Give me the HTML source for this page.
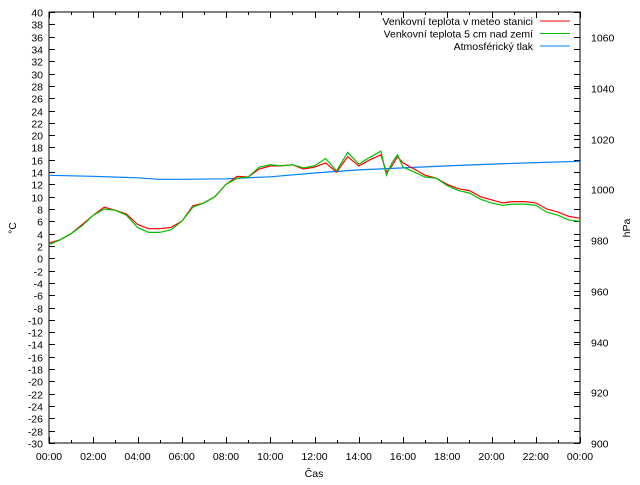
<!DOCTYPE html>
<html><head><meta charset="utf-8"><style>
html,body{margin:0;padding:0;background:#fff;}
svg text{font-family:"Liberation Sans","DejaVu Sans",sans-serif;font-size:10.5px;fill:#000;}
</style></head><body>
<svg id="chart" width="640" height="480" xmlns="http://www.w3.org/2000/svg">
<rect width="640" height="480" fill="#fff"/>
<g id="axes"></g>
<g id="series"></g>
<g id="legend"></g>
</svg>
<script>
const hours = [0,0.5,1,1.5,2,2.5,3,3.5,4,4.5,5,5.5,6,6.5,7,7.5,8,8.5,9,9.5,10,10.5,11,11.5,12,12.5,13,13.5,14,14.5,15,15.25,15.5,15.75,16,16.5,17,17.5,18,18.5,19,19.5,20,20.5,21,21.5,22,22.5,23,23.5,24];
const tempStation = [2.5,3,4,5.5,7,8.3,7.8,7.2,5.5,4.8,4.8,5,6,8.5,9,10,12,13.3,13.2,14.5,15,15,15.2,14.5,14.8,15.5,14,16.5,15,16,16.8,14,15,16.5,15.5,14.5,13.5,13,12,11.3,11,10,9.5,9,9.2,9.2,9,8,7.5,6.8,6.5];
const tempGround = [2.2,3,4,5.3,7,8,7.8,7,5,4.2,4.2,4.6,6,8.3,9,10,12,13,13.2,14.8,15.2,15,15.2,14.7,15,16.2,14.2,17.2,15.3,16.4,17.4,13.5,15.5,16.8,14.8,14,13.2,13,11.8,11,10.6,9.6,9,8.6,8.8,8.8,8.6,7.5,7,6.2,6];
const pressHours = [0,2,4,5,6,8,10,12,14,16,18,20,22,24];
const pressure = [1005.6,1005.2,1004.6,1004.0,1004.0,1004.2,1005,1006.5,1007.7,1008.5,1009.3,1010,1010.6,1011.1];
const yTicks = [];for(let v=-30;v<=40;v+=2)yTicks.push(v);
const y2Ticks = [900,920,940,960,980,1000,1020,1040,1060];
const xTickLabels = ["00:00","02:00","04:00","06:00","08:00","10:00","12:00","14:00","16:00","18:00","20:00","22:00","00:00"];

const L=49,R=580,T=12,B=443,NS="http://www.w3.org/2000/svg";
const xs=h=>L+(R-L)*h/24;
const ys=v=>B-(B-T)*(v+30)/70;
const y2s=v=>B-(B-T)*(v-900)/170;
function mk(tag,attrs,parent,text){const e=document.createElementNS(NS,tag);for(const k in attrs)e.setAttribute(k,attrs[k]);if(text!==undefined)e.textContent=text;parent.appendChild(e);return e;}
const ax=document.getElementById('axes');
const frame=mk('rect',{x:L,y:T,width:R-L,height:B-T,fill:'none',stroke:'#000','stroke-width':1},ax);


yTicks.forEach(v=>{const y=Math.round(ys(v))+0.5;
 mk('line',{x1:L,x2:L+6,y1:y,y2:y,stroke:'#000'},ax);
 mk('line',{x1:R-6,x2:R,y1:y,y2:y,stroke:'#000'},ax);
 const t=mk('text',{x:L-6,y:y+4,'text-anchor':'end'},ax,String(v));
 
 });
y2Ticks.forEach(v=>{const y=Math.round(y2s(v))+0.5;
 mk('line',{x1:R-6,x2:R,y1:y,y2:y,stroke:'#000'},ax);
 const t=mk('text',{x:R+11,y:y+4},ax,String(v));
 
 });
for(let h=0;h<=24;h++){const x=Math.round(xs(h))+0.5;const len=h%2?3:6;
 mk('line',{x1:x,x2:x,y1:B,y2:B-len,stroke:'#000'},ax);
 mk('line',{x1:x,x2:x,y1:T,y2:T+len,stroke:'#000'},ax);}
xTickLabels.forEach((s,i)=>{const t=mk('text',{x:xs(i*2),y:B+17,'text-anchor':'middle'},ax,s);
 
 });
let t=mk('text',{x:314,y:477,'text-anchor':'middle'},ax,'Čas');


t=mk('text',{x:16,y:228,'text-anchor':'middle',transform:'rotate(-90 16 228)'},ax,'°C');


t=mk('text',{x:630,y:228,'text-anchor':'middle',transform:'rotate(-90 630 228)'},ax,'hPa');



const se=document.getElementById('series');
function line(xArr,yArr,fy,color,name){const pts=xArr.map((h,i)=>xs(h).toFixed(1)+','+fy(yArr[i]).toFixed(1)).join(' ');
 const p=mk('polyline',{points:pts,fill:'none',stroke:color,'stroke-width':1.2},se);
 
 }
line(pressHours,pressure,y2s,'#0080ff','pressure-line');
line(hours,tempStation,ys,'#ff0000','station-temp-line');
line(hours,tempGround,ys,'#00c000','ground-temp-line');

const lg=document.getElementById('legend');
[["Venkovní teplota v meteo stanici","#ff0000"],["Venkovní teplota 5 cm nad zemí","#00c000"],["Atmosférický tlak","#0080ff"]].forEach((e,i)=>{const y=21+i*12.5;
 const tx=mk('text',{x:533,y:y+4,'text-anchor':'end'},lg,e[0]);
 
 
 const ln=mk('line',{x1:540,x2:570,y1:y,y2:y,stroke:e[1]},lg);
 
 });
</script>
</body></html>
